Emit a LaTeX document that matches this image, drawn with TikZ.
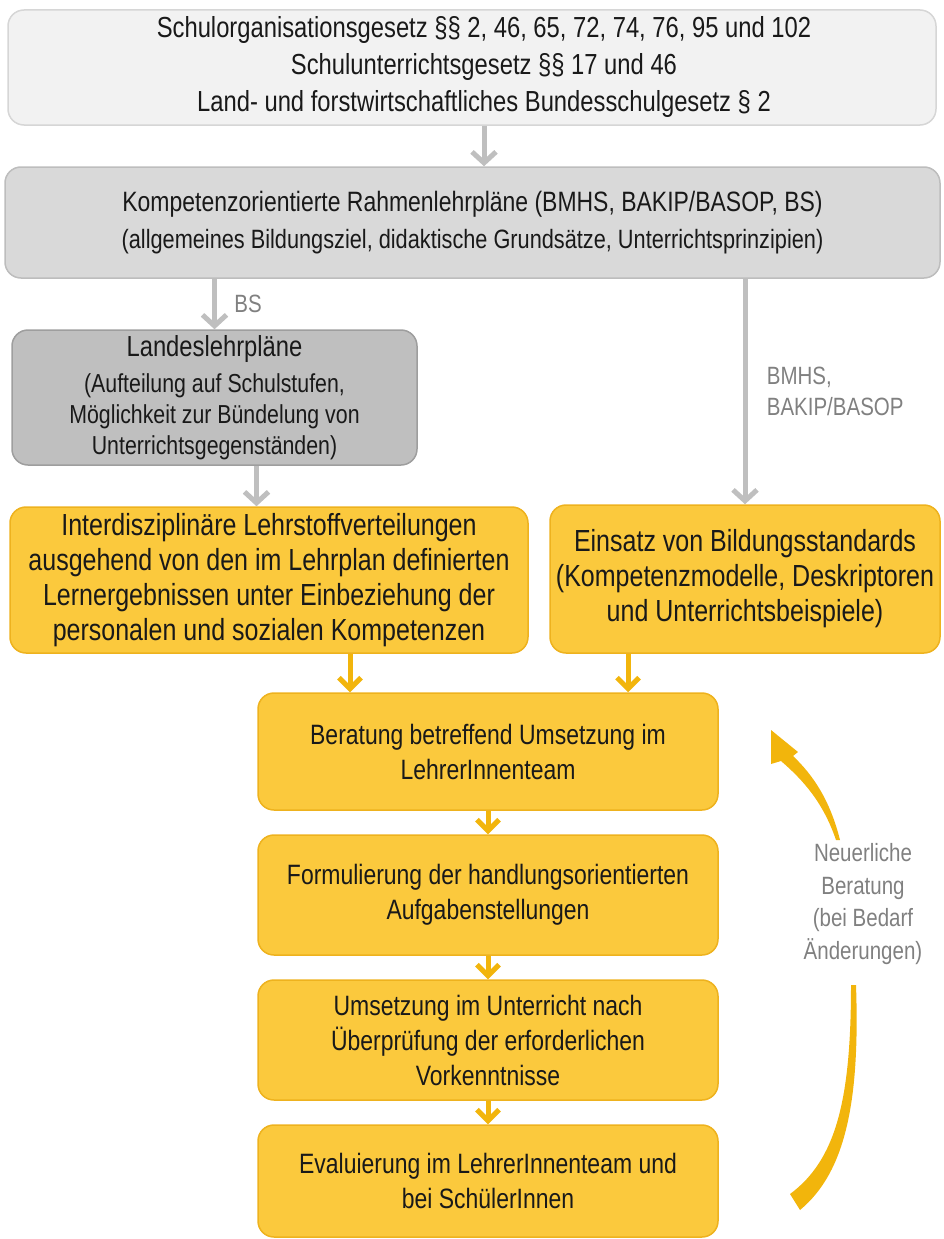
\documentclass[tikz,border=0pt]{standalone}
\usepackage{fontspec}
\setmainfont{Liberation Sans}[FakeStretch=0.82]
\usetikzlibrary{arrows.meta,positioning}

\definecolor{lawFill}{HTML}{F2F2F2}
\definecolor{lawLine}{HTML}{D6D6D6}
\definecolor{frameFill}{HTML}{D9D9D9}
\definecolor{frameLine}{HTML}{BDBDBD}
\definecolor{landFill}{HTML}{BFBFBF}
\definecolor{landLine}{HTML}{9E9E9E}
\definecolor{stepFill}{HTML}{FBC93D}
\definecolor{stepLine}{HTML}{EEB21E}
\definecolor{arrowGray}{HTML}{BFBFBF}
\definecolor{arrowYellow}{HTML}{F2B50C}
\definecolor{labelGray}{HTML}{808080}

\begin{document}
\begin{tikzpicture}[x=1pt,y=-1pt,
  box/.style={rounded corners=16pt, line width=1.5pt, align=center, inner sep=0pt, text=black!90},
  lawbox/.style={box, draw=lawLine, fill=lawFill},
  framebox/.style={box, draw=frameLine, fill=frameFill},
  landbox/.style={box, draw=landLine, fill=landFill},
  stepbox/.style={box, draw=stepLine, fill=stepFill, font=\fontsize{28}{35}\selectfont},
  grayArrow/.style={draw=arrowGray, line width=5pt, -{Straight Barb[length=11pt,width=24pt,line width=5pt]}},
  yellowArrow/.style={draw=arrowYellow, line width=5pt, -{Straight Barb[length=11pt,width=22pt,line width=5pt]}},
  sidelabel/.style={text=labelGray, align=left, font=\fontsize{25}{31}\selectfont}
]
  \newcommand{\bigLine}{\fontsize{28}{37}\selectfont}
  \newcommand{\lawShift}{\hspace*{24pt}}
  \useasboundingbox (0,0) rectangle (944,1239);

  % legal basis and frame curricula
  \node[lawbox, minimum width=928pt, minimum height=115pt, font=\fontsize{29}{37}\selectfont] (gesetze) at (472,67.5)
    {\lawShift Schulorganisationsgesetz §§ 2, 46, 65, 72, 74, 76, 95 und 102\\
     \lawShift Schulunterrichtsgesetz §§ 17 und 46\\
     \lawShift Land- und forstwirtschaftliches Bundesschulgesetz § 2};
  \node[framebox, minimum width=935pt, minimum height=111pt, font=\fontsize{26.5}{37}\selectfont] (rahmen) at (472.5,222.5)
    {{\bigLine Kompetenzorientierte Rahmenlehrpläne (BMHS, BAKIP/BASOP, BS)}\\
     (allgemeines Bildungsziel, didaktische Grundsätze, Unterrichtsprinzipien)};
  \node[landbox, minimum width=405pt, minimum height=135pt, font=\fontsize{26}{31}\selectfont] (land) at (214.5,397.5)
    {{\fontsize{29}{31}\selectfont Landeslehrpläne}\\[5pt]
     (Aufteilung auf Schulstufen,\\
     Möglichkeit zur Bündelung von\\
     Unterrichtsgegenständen)};

  % yellow steps
  \node[stepbox, minimum width=518pt, minimum height=146pt, font=\fontsize{30.5}{35}\selectfont] (inter) at (269,580)
    {Interdisziplinäre Lehrstoffverteilungen\\
     ausgehend von den im Lehrplan definierten\\
     Lernergebnissen unter Einbeziehung der\\
     personalen und sozialen Kompetenzen};
  \node[stepbox, minimum width=390pt, minimum height=148pt, font=\fontsize{30.5}{35}\selectfont] (einsatz) at (745,579)
    {Einsatz von Bildungsstandards\\
     (Kompetenzmodelle, Deskriptoren\\
     und Unterrichtsbeispiele)};
  \node[stepbox, minimum width=460pt, minimum height=117pt] (beratung) at (488,751.5)
    {Beratung betreffend Umsetzung im\\ LehrerInnenteam};
  \node[stepbox, minimum width=460pt, minimum height=120pt] (formulierung) at (488,895)
    {Formulierung der handlungsorientierten\\ Aufgabenstellungen};
  \node[stepbox, minimum width=460pt, minimum height=120pt] (umsetzung) at (488,1040)
    {Umsetzung im Unterricht nach\\ Überprüfung der erforderlichen\\ Vorkenntnisse};
  \node[stepbox, minimum width=460pt, minimum height=112pt] (evaluierung) at (488,1181)
    {Evaluierung im LehrerInnenteam und\\ bei SchülerInnen};

  % gray connectors
  \coordinate (g1) at ([xshift=12pt]gesetze.south);
  \draw[grayArrow] (g1) -- (g1 |- rahmen.north);
  \draw[grayArrow] (rahmen.south -| land.north) -- (land.north)
    node[sidelabel, midway, right=14pt] {BS};
  \coordinate (g2) at ([xshift=42pt]land.south);
  \draw[grayArrow] (g2) -- (g2 |- inter.north);
  \draw[grayArrow] (rahmen.south -| einsatz.north) -- (einsatz.north)
    node[sidelabel, midway, right=16pt] {BMHS,\\BAKIP/BASOP};

  % yellow connectors
  \coordinate (y1) at ([xshift=81pt]inter.south);
  \draw[yellowArrow] (y1) -- (y1 |- beratung.north);
  \coordinate (y2) at ([xshift=-117pt]einsatz.south);
  \draw[yellowArrow] (y2) -- (y2 |- beratung.north);
  \foreach \a/\b in {beratung/formulierung, formulierung/umsetzung, umsetzung/evaluierung}
    \draw[yellowArrow] (\a.south) -- (\b.north);

  % feedback loop
  \node[text=labelGray, align=center, font=\fontsize{25}{32.5}\selectfont] (neu) at (863,904)
    {Neuerliche\\ Beratung\\ (bei Bedarf\\ Änderungen)};
  \fill[arrowYellow] (856,985) .. controls (860,1100) and (846,1172) .. (800,1210)
    -- (790,1194) .. controls (836,1160) and (851,1100) .. (851,985) -- cycle;
  \fill[arrowYellow] (840,840) .. controls (830,800) and (813,775) .. (793,756)
    -- (798,752) -- (771,730) -- (771,764) -- (781,761)
    .. controls (803,780) and (823,802) .. (836,840) -- cycle;
\end{tikzpicture}
\end{document}
